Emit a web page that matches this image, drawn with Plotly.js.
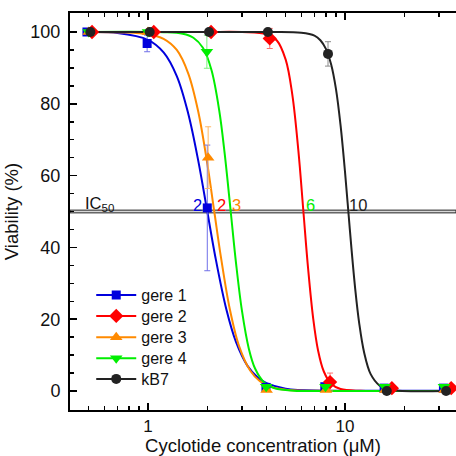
<!DOCTYPE html>
<html>
<head>
<meta charset="utf-8">
<script src="https://cdn.plot.ly/plotly-3.0.1.min.js"></script>
<style>
  html, body { margin: 0; padding: 0; background: #ffffff; overflow: hidden; }
  #chart { width: 456px; height: 456px; }
</style>
</head>
<body>
<div id="chart"></div>
<script>
// ---- measured data points (concentration in µM, viability in %) ----
const gere1X   = [0.49, 0.99, 2.0, 3.97, 7.9, 15.8, 31.6];
const gere1Y   = [100, 96.8, 51, 1.0, 1.2, 0.8, 0.8];
const gere1Err = [0, 2.3, 17.5, 0, 0, 0, 0];

const gere2X   = [0.52, 1.07, 2.09, 4.15, 8.4, 17.3, 34.6];
const gere2Y   = [100, 100, 100, 98.2, 2.5, 0.8, 0.8];
const gere2Err = [0, 0, 0, 2.8, 2.5, 0, 0];

const gere3X   = [0.5, 1.0, 2.02, 4.0, 8.0, 16.0, 32.0];
const gere3Y   = [100, 100, 65, 0.3, 0.3, 0.3, 0.3];
const gere3Err = [0, 0, 8.6, 0, 0, 0, 0];

const gere4X   = [0.5, 1.0, 1.99, 3.98, 7.96, 15.9, 31.8];
const gere4Y   = [100, 100, 94.5, 1.2, 1.2, 1.2, 1.2];
const gere4Err = [0, 0, 4.6, 0, 0, 0, 0];

const kb7X     = [0.51, 1.02, 2.04, 4.06, 8.2, 16.3, 32.6];
const kb7Y     = [100, 100, 100, 100, 93.9, 0, 0];
const kb7Err   = [0, 0, 0, 0, 3.4, 0, 0];

// ---- fitted dose-response curves ----
const gere1FitX = [0.5, 0.7, 1, 1.2, 1.4, 1.6, 1.8, 2, 2.2, 2.5, 2.8, 3.2, 3.6, 4, 5, 8, 16, 32];
const gere1FitY = [99.95, 99.7, 97.8, 94.3, 87.7, 77.3, 64.1, 50, 37.2, 22.7, 13.6, 7.0, 3.8, 2.2, 0.65, 0.1, 0.1, 0.1];

const gere2FitX = [0.5, 1, 2, 3, 4, 4.5, 5, 5.4, 5.8, 6.15, 6.5, 6.9, 7.3, 7.8, 8.5, 9.5, 12, 16, 32];
const gere2FitY = [100, 100, 100, 99.98, 99.4, 97.7, 92.3, 82.6, 66.9, 50, 34.0, 20.1, 11.3, 5.5, 2.0, 0.54, 0.05, 0, 0];

const gere3FitX = [0.5, 1, 1.2, 1.4, 1.6, 1.8, 2, 2.17, 2.35, 2.6, 2.9, 3.3, 3.7, 4.2, 5, 8, 16, 32];
const gere3FitY = [100, 99.4, 98.1, 95.0, 88.5, 77.8, 63.3, 50, 37.0, 22.9, 12.5, 5.7, 2.7, 1.2, 0.37, 0.05, 0, 0];

const gere4FitX = [0.5, 1.2, 1.5, 1.7, 1.9, 2.1, 2.3, 2.45, 2.63, 2.8, 3.0, 3.25, 3.5, 3.9, 4.4, 5.5, 8, 16, 32];
const gere4FitY = [100, 99.94, 99.5, 98.4, 95.6, 89.4, 78.1, 66.2, 50, 35.5, 22.3, 11.8, 6.2, 2.3, 0.75, 0.09, 0, 0, 0];

const kb7FitX = [0.5, 4, 6, 7, 7.5, 8, 8.5, 9, 9.5, 10, 10.4, 10.8, 11.3, 11.8, 12.5, 13.5, 15, 17, 32];
const kb7FitY = [100, 100, 99.8, 99.0, 97.7, 95.3, 91.0, 84.1, 73.9, 61.1, 50, 39.3, 27.8, 19.0, 10.8, 4.7, 1.5, 0.35, 0];

// ---- IC50 labels ----
const ic50Labels = ['2', '2', '3', '6', '10'];
const ic50LabelX = [1.79, 2.35, 2.83, 6.68, 11.65];

const names = ['gere 1', 'gere 2', 'gere 3', 'gere 4', 'kB7'];

const FONT = 'Liberation Sans, Arial, sans-serif';

const series = [
  {x: gere1X, y: gere1Y, e: gere1Err, fx: gere1FitX, fy: gere1FitY, color: '#0000dd', err: '#7070e8', symbol: 'square', size: 9},
  {x: gere2X, y: gere2Y, e: gere2Err, fx: gere2FitX, fy: gere2FitY, color: '#ff0000', err: '#ff7070', symbol: 'diamond', size: 11},
  {x: gere3X, y: gere3Y, e: gere3Err, fx: gere3FitX, fy: gere3FitY, color: '#ff8a00', err: '#ffb866', symbol: 'triangle-up', size: 11},
  {x: gere4X, y: gere4Y, e: gere4Err, fx: gere4FitX, fy: gere4FitY, color: '#00ee00', err: '#7cf07c', symbol: 'triangle-down', size: 11},
  {x: kb7X,   y: kb7Y,   e: kb7Err,   fx: kb7FitX,   fy: kb7FitY,   color: '#222222', err: '#8a8a8a', symbol: 'circle', size: 10}
];

const legendIds = ['legend', 'legend2', 'legend3', 'legend4', 'legend5'];

const traces = [];
// fitted curves
series.forEach((s, i) => {
  traces.push({
    type: 'scatter', mode: 'lines', x: s.fx, y: s.fy,
    line: {color: s.color, width: 2, shape: 'spline', smoothing: 1},
    showlegend: false, hoverinfo: 'skip', name: names[i]
  });
});
// measured points (separated by gaps so no connecting line is drawn; legend shows line+marker)
function interleave(arr, mapFn) {
  const out = [];
  arr.forEach((v, k) => { out.push(mapFn ? mapFn(v) : v); if (k < arr.length - 1) out.push(null); });
  return out;
}
series.forEach((s, i) => {
  traces.push({
    type: 'scatter', mode: 'lines+markers', name: names[i], legend: legendIds[i],
    x: interleave(s.x), y: interleave(s.y), connectgaps: false,
    line: {color: s.color, width: 2},
    marker: {symbol: s.symbol, size: s.size, color: s.color, line: {width: 0}},
    error_y: {type: 'data', array: interleave(s.e, v => v > 0 ? v : null), visible: true,
              color: s.err, thickness: 1, width: 3}
  });
});

const annotations = [
  {xref: 'paper', yref: 'y', x: 0.033, y: 50, xanchor: 'left', yanchor: 'bottom', yshift: -4,
   text: 'IC<sub>50</sub>', showarrow: false, font: {family: FONT, size: 16.5, color: '#111'}}
];
ic50Labels.forEach((t, i) => {
  annotations.push({
    xref: 'x', yref: 'y', x: Math.log10(ic50LabelX[i]), y: 50, xanchor: 'center', yanchor: 'bottom', yshift: -4,
    text: t, showarrow: false, font: {family: FONT, size: 16.5, color: series[i].color}
  });
});

const legendRowsPaperY = [0.2897, 0.2368, 0.1831, 0.1302, 0.0781];

const layout = {
  width: 456, height: 456,
  margin: {l: 70, r: 0, t: 13, b: 46},
  paper_bgcolor: '#ffffff', plot_bgcolor: '#ffffff',
  font: {family: FONT, size: 18, color: '#111'},
  showlegend: true,
  xaxis: {
    type: 'log', range: [-0.3959, 1.5635], automargin: false,
    showline: true, linecolor: '#000', linewidth: 2, mirror: 'ticks',
    showgrid: false, zeroline: false,
    tickmode: 'array', tickvals: [1, 10], ticktext: ['1', '10'],
    tickfont: {size: 17},
    ticks: 'inside', ticklen: 7, tickwidth: 1.5, tickcolor: '#000',
    minor: {tickmode: 'array', tickvals: [0.5, 0.6, 0.7, 0.8, 0.9, 2, 3, 4, 5, 6, 7, 8, 9, 20, 30],
            ticks: 'inside', ticklen: 4, tickwidth: 1.5, tickcolor: '#000', showgrid: false},
    title: {text: 'Cyclotide concentration (μM)', font: {size: 18.5}, standoff: 11}
  },
  yaxis: {
    range: [-5.29, 105.29],
    showline: true, linecolor: '#000', linewidth: 2, mirror: false,
    showgrid: false, zeroline: false,
    tickmode: 'array', tickvals: [0, 20, 40, 60, 80, 100],
    ticks: 'inside', ticklen: 7, tickwidth: 1.5, tickcolor: '#000',
    minor: {tickmode: 'array', tickvals: [5, 10, 15, 25, 30, 35, 45, 50, 55, 65, 70, 75, 85, 90, 95],
            ticks: 'inside', ticklen: 4, tickwidth: 1.5, tickcolor: '#000', showgrid: false},
    ticklabelstandoff: 4,
    title: {text: 'Viability (%)', font: {size: 18.5}, standoff: 7}
  },
  shapes: [
    {type: 'rect', xref: 'paper', yref: 'y', x0: 0, x1: 1, y0: 49.62, y1: 50.38,
     fillcolor: '#d8d8d8', line: {color: '#222', width: 1}, layer: 'below'}
  ],
  annotations: annotations
};
legendIds.forEach((id, i) => {
  layout[id] = {x: 0.055, y: legendRowsPaperY[i], xanchor: 'left', yanchor: 'middle',
                bgcolor: 'rgba(0,0,0,0)', borderwidth: 0, itemwidth: 40,
                font: {family: FONT, size: 16, color: '#111'}};
});

Plotly.newPlot('chart', traces, layout, {displayModeBar: false, staticPlot: true});
</script>
</body>
</html>
